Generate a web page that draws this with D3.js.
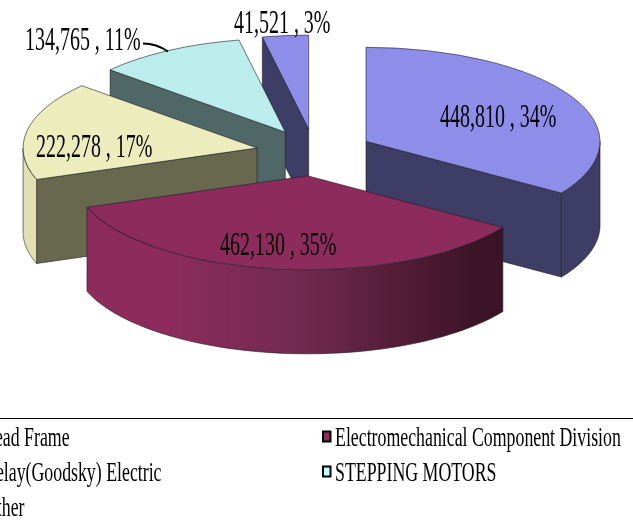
<!DOCTYPE html>
<html><head><meta charset="utf-8">
<script src="https://d3js.org/d3.v7.min.js"></script>
<style>html,body{margin:0;padding:0;background:#fff;overflow:hidden}svg{display:block}text{font-family:"Liberation Serif",serif;fill:#000}.soft{filter:blur(.35px)}</style>
</head><body><svg id="c" width="633" height="523"></svg>
<script>
const categories = ["Lead Frame","Electromechanical Component Division","Relay(Goodsky) Electric","STEPPING MOTORS","Other"];
const values = [448810,462130,222278,134765,41521];
const percents = [34,35,17,11,3];
const topColors = ["#8e8eea","#8d2c5c","#ececbc","#bbeded","#8e8eea"];
const wallColors = ["#3d3d66","#3a1426","#68684f","#506767","#3d3d66"];
const rimColors = ["#3d3d66","#8d2c5c","#e1dfb2","#506767","#3d3d66"];
const legendSwatches = ["#8e8eea","#8d2c5c","#ececbc","#bbffff","#8e8eea"];

const W=633,H=523,cx=314.5,cy=152.5,rx=234,ry=94,depth=84,explode=0.25;
const svg=d3.select("#c");
const defs=svg.append("defs");
const sx=d3.scaleLinear().domain([-1,1]).range([-rx,rx]);
const sy=d3.scaleLinear().domain([-1,1]).range([-ry,ry]);
const pie=d3.pie().sort(null).startAngle(0).endAngle(2*Math.PI);
const arcs=pie(values).map((d,i)=>{
  const mid=(d.startAngle+d.endAngle)/2;
  return {...d,i,ax:cx+sx(explode*Math.sin(mid)),ay:cy+sy(-explode*Math.cos(mid))};
});
const px=(d,a)=>d.ax+sx(Math.sin(a)), py=(d,a)=>d.ay+sy(-Math.cos(a));
const grad=defs.append("linearGradient").attr("id","rimEM").attr("gradientUnits","userSpaceOnUse")
  .attr("x1",cx-rx).attr("x2",cx+rx*0.85).attr("y1",0).attr("y2",0);
[[0,"#8d2c5c"],[0.2,"#8d2c5c"],[0.5,"#722a50"],[0.78,"#4e1a33"],[0.93,"#3a1426"],[1,"#3a1426"]].forEach(s=>grad.append("stop").attr("offset",s[0]).attr("stop-color",s[1]));

const order=[0,4,3,2,1];
const arcGen=d3.arc().innerRadius(0).outerRadius(1);
const rimArea=d3.area().x(t=>t.x).y0(t=>t.y).y1(t=>t.y+depth);
const ST="#1c1c28";
order.forEach(i=>{
  const d=arcs[i],g=svg.append("g").attr("class","soft");
  const wall=a=>{
    const p=[[d.ax,d.ay],[px(d,a),py(d,a)],[px(d,a),py(d,a)+depth],[d.ax,d.ay+depth]];
    g.append("path").attr("d",d3.line()(p)+"Z").attr("fill",wallColors[i]).attr("stroke",ST).attr("stroke-width",.6);
  };
  if(d.startAngle>Math.PI) wall(d.startAngle);
  if(d.endAngle<Math.PI) wall(d.endAngle);
  const a0=Math.max(d.startAngle,Math.PI/2),a1=Math.min(d.endAngle,3*Math.PI/2);
  if(a1>a0){
    const pts=d3.range(0,61).map(k=>{const a=a0+(a1-a0)*k/60;return {x:px(d,a),y:py(d,a)};});
    g.append("path").attr("d",rimArea(pts)).attr("fill",i===1?"url(#rimEM)":rimColors[i]).attr("stroke",ST).attr("stroke-width",.6);
  }
  g.append("path").attr("d",arcGen({startAngle:d.startAngle,endAngle:d.endAngle}))
    .attr("transform",`translate(${d.ax},${d.ay}) scale(${rx},${ry})`)
    .attr("fill",topColors[i]).attr("stroke",ST).attr("stroke-width",.6)
    .style("vector-effect","non-scaling-stroke");
});

// leader line for STEPPING MOTORS
svg.append("path").attr("d","M143,43.5C153,43.5 160,46 168,51.5").attr("fill","none").attr("stroke","#000").attr("stroke-width",2);

// data labels
const labelPos=[[440,127],[220,255],[36,157],[25,50],[234,33]];
const fmt=d3.format(",");
const labelSize=33,labelSqueeze=0.605;
values.forEach((v,i)=>{
  svg.append("text").attr("class","soft").attr("transform",`translate(${labelPos[i][0]},${labelPos[i][1]}) scale(${labelSqueeze},1)`)
    .attr("font-size",labelSize).style("white-space","pre")
    .text(`${fmt(v)} , ${percents[i]}%`);
});

// legend
svg.append("line").attr("x1",0).attr("x2",W).attr("y1",418.5).attr("y2",418.5).attr("stroke","#000").attr("stroke-width",1);
const legendSize=27,legendSqueeze=0.66;
const cols=[-16,335],rows=[446,481,516];
categories.forEach((c,i)=>{
  const col=i%2,row=Math.floor(i/2);
  svg.append("rect").attr("x",cols[col]-12).attr("y",rows[row]-14.5).attr("width",7.5).attr("height",10)
    .attr("fill",legendSwatches[i]).attr("stroke","#000").attr("stroke-width",2);
  svg.append("text").attr("class","soft").attr("transform",`translate(${cols[col]},${rows[row]}) scale(${legendSqueeze},1)`)
    .attr("font-size",legendSize).text(c);
});
</script></body></html>
